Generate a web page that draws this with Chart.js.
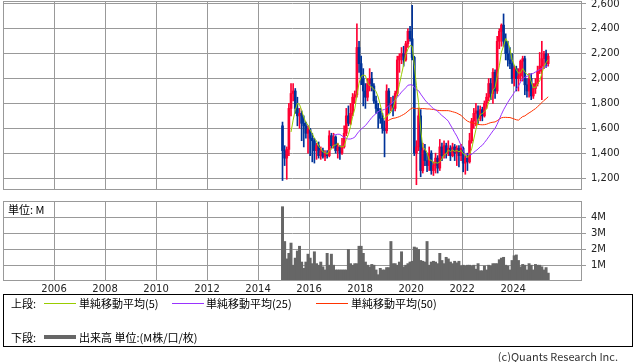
<!DOCTYPE html>
<html>
<head>
<meta charset="utf-8">
<script src="https://cdn.jsdelivr.net/npm/chart.js@4.4.0/dist/chart.umd.min.js"></script>
<style>
body { margin: 0; background: #fff; width: 638px; height: 362px; position: relative; overflow: hidden; font-family: "Noto Sans CJK JP", sans-serif; color: #000; }
canvas { position: absolute; left: 0; }
#price { top: 0; }
#vol { top: 195px; }
.t { position: absolute; font-size: 11px; line-height: 14px; white-space: nowrap; }
.ln { position: absolute; height: 1px; }
#legend { position: absolute; left: 3px; top: 294px; width: 630px; height: 53px; box-sizing: border-box; border: 1px solid #000; }
</style>
</head>
<body>
<canvas id="price" width="638" height="195"></canvas>
<canvas id="vol" width="638" height="100"></canvas>
<div class="t" style="left:8px;top:202px;">単位: M</div>
<div id="legend">
  <div class="t" style="left:7px;top:1px;">上段:</div>
  <div class="ln" style="left:40px;top:8px;width:32px;background:#99cc00;"></div>
  <div class="t" style="left:75px;top:1px;">単純移動平均(5)</div>
  <div class="ln" style="left:168px;top:8px;width:32px;background:#9933ff;"></div>
  <div class="t" style="left:202px;top:1px;">単純移動平均(25)</div>
  <div class="ln" style="left:312px;top:8px;width:32px;background:#ff3300;"></div>
  <div class="t" style="left:347px;top:1px;">単純移動平均(50)</div>
  <div class="t" style="left:7px;top:35px;">下段:</div>
  <div class="ln" style="left:40px;top:40px;width:32px;height:4px;background:#666;"></div>
  <div class="t" style="left:75px;top:35px;">出来高 単位:(M株/口/枚)</div>
</div>
<div class="t" style="right:20px;top:349px;color:#333;">(c)Quants Research Inc.</div>
<script>
'use strict';

const months = [
  '2014-12',
  '2015-01','2015-02','2015-03','2015-04','2015-05','2015-06','2015-07','2015-08','2015-09','2015-10','2015-11','2015-12',
  '2016-01','2016-02','2016-03','2016-04','2016-05','2016-06','2016-07','2016-08','2016-09','2016-10','2016-11','2016-12',
  '2017-01','2017-02','2017-03','2017-04','2017-05','2017-06','2017-07','2017-08','2017-09','2017-10','2017-11','2017-12',
  '2018-01','2018-02','2018-03','2018-04','2018-05','2018-06','2018-07','2018-08','2018-09','2018-10','2018-11','2018-12',
  '2019-01','2019-02','2019-03','2019-04','2019-05','2019-06','2019-07','2019-08','2019-09','2019-10','2019-11','2019-12',
  '2020-01','2020-02','2020-03','2020-04','2020-05','2020-06','2020-07','2020-08','2020-09','2020-10','2020-11','2020-12',
  '2021-01','2021-02','2021-03','2021-04','2021-05','2021-06','2021-07','2021-08','2021-09','2021-10','2021-11','2021-12',
  '2022-01','2022-02','2022-03','2022-04','2022-05','2022-06','2022-07','2022-08','2022-09','2022-10','2022-11','2022-12',
  '2023-01','2023-02','2023-03','2023-04','2023-05','2023-06','2023-07','2023-08','2023-09','2023-10','2023-11','2023-12',
  '2024-01','2024-02','2024-03','2024-04','2024-05','2024-06','2024-07','2024-08','2024-09','2024-10','2024-11','2024-12',
  '2025-01','2025-02','2025-03','2025-04','2025-05'
];

const open = [
  1620,
  1420,1360,1430,1760,1880,1900,1760,1700,1720,1640,1620,1560,
  1590,1520,1500,1420,1460,1380,1420,1370,1400,1380,1540,1460,
  1530,1420,1450,1400,1450,1560,1700,1640,1720,1850,1870,2250,
  2120,2000,1900,1850,1960,2000,1940,1820,1760,1740,1680,1600,
  1580,1900,1780,1800,1760,1880,2150,2180,2200,2150,2280,2380,
  2320,2170,1400,1450,1700,1260,1420,1340,1300,1400,1260,1300,
  1360,1280,1450,1380,1460,1400,1440,1380,1450,1400,1440,1380,
  1440,1320,1360,1330,1500,1660,1720,1740,1680,1750,1700,1800,
  1850,1960,1880,2050,1900,2300,2380,2430,2300,2200,2150,2120,
  2000,2080,2000,2020,2140,2160,1950,1900,2000,1860,1920,1960,
  2060,2100,2160,2200,2120
];
const high = [
  1650,
  1460,1450,1800,1960,1960,1920,1850,1760,1740,1700,1650,1620,
  1600,1560,1520,1480,1490,1450,1440,1420,1420,1580,1560,1560,
  1540,1480,1460,1520,1620,1760,1780,1800,1880,1900,2440,2300,
  2180,2080,1960,2000,2080,2050,1960,1860,1800,1760,1720,1660,
  1950,1920,1850,1860,1900,2180,2200,2250,2260,2300,2400,2420,
  2590,2180,1500,1760,1750,1480,1470,1400,1450,1420,1330,1400,
  1380,1510,1480,1500,1480,1500,1460,1480,1470,1460,1460,1470,
  1450,1380,1400,1560,1680,1760,1800,1780,1780,1770,1820,1880,
  2000,2000,2080,2070,2340,2400,2440,2520,2360,2300,2250,2200,
  2100,2100,2080,2150,2180,2180,2000,2040,2040,1960,2000,2100,
  2210,2300,2220,2230,2200
];
const low = [
  1180,
  1300,1190,1380,1700,1820,1720,1620,1600,1500,1450,1520,1400,
  1380,1330,1320,1350,1360,1350,1360,1340,1360,1370,1440,1440,
  1400,1360,1350,1390,1440,1540,1620,1630,1700,1800,1850,2050,
  1950,1780,1760,1820,1900,1900,1800,1720,1600,1640,1560,1370,
  1560,1720,1740,1700,1740,1860,2050,2120,2100,2140,2250,2300,
  2150,1380,1146,1420,1210,1240,1300,1250,1260,1230,1220,1240,
  1240,1260,1340,1360,1360,1380,1340,1370,1340,1300,1290,1340,
  1250,1230,1260,1320,1480,1600,1620,1640,1660,1660,1690,1760,
  1820,1830,1800,1840,1880,2240,2260,2260,2150,2100,2080,1960,
  1940,1900,1900,1980,1980,1870,1850,1850,1830,1840,1880,1940,
  2040,1830,2080,2090,2100
];
const close = [
  1420,
  1360,1430,1760,1880,1900,1760,1700,1720,1640,1620,1560,1590,
  1520,1500,1420,1460,1380,1420,1370,1400,1380,1540,1460,1530,
  1420,1450,1400,1450,1560,1700,1640,1720,1850,1870,2250,2120,
  2000,1900,1850,1960,2000,1940,1820,1760,1740,1680,1600,1580,
  1900,1780,1800,1760,1880,2150,2180,2200,2150,2280,2380,2320,
  2170,1400,1450,1700,1260,1420,1340,1300,1400,1260,1300,1360,
  1280,1450,1380,1460,1400,1440,1380,1450,1400,1440,1380,1440,
  1320,1360,1330,1500,1660,1720,1740,1680,1750,1700,1800,1850,
  1960,1880,2050,1900,2300,2380,2430,2300,2200,2150,2120,2000,
  2080,2000,2020,2140,2160,1950,1900,2000,1860,1920,1960,2060,
  2100,2160,2200,2120,2180
];
// 出来高 (M)
const volume = [
  4.7,
  2.5,1.4,1.75,2.4,1.0,1.45,1.9,2.2,1.2,0.8,1.2,1.7,
  1.45,1.1,1.85,1.1,1.0,1.2,0.9,0.7,1.75,1.0,1.7,1.0,
  0.7,0.7,0.7,0.7,0.7,0.7,2.0,1.1,1.0,1.1,1.1,2.2,
  2.2,1.75,1.2,1.0,0.9,1.05,1.0,0.7,0.4,0.8,0.7,0.7,
  0.85,0.85,2.5,1.1,1.1,1.0,1.2,1.85,0.9,1.0,1.1,1.2,
  1.25,2.15,2.1,2.0,1.3,1.25,1.2,2.5,1.0,1.2,1.25,1.2,
  1.1,1.75,1.3,1.1,1.5,1.4,1.2,1.1,1.25,1.15,1.25,0.95,
  1.0,0.95,1.0,1.0,0.95,1.0,0.75,1.1,0.65,0.65,0.95,0.7,
  1.0,0.95,1.1,1.1,1.1,1.35,1.45,1.5,1.0,0.95,0.7,1.3,
  1.6,1.65,1.3,0.9,1.05,1.0,0.7,1.1,1.0,0.7,1.05,1.0,
  1.0,0.9,0.7,0.85,0.5
];

const yearTicks = [2006, 2008, 2010, 2012, 2014, 2016, 2018, 2020, 2022, 2024];
const priceTicks = [1200, 1400, 1600, 1800, 2000, 2200, 2400, 2600];
const volumeTicks = [1, 2, 3, 4];

// 月の中央を年の小数で
const xs = months.map(m => {
  const [y, mo] = m.split('-').map(Number);
  return y + (mo - 0.5) / 12;
});

// 単純移動平均
function sma(n) {
  return close.map((c, i) => {
    if (i < n - 1) return null;
    let s = 0;
    for (let k = i - n + 1; k <= i; k++) s += close[k];
    return s / n;
  });
}
const ma5 = sma(5), ma25 = sma(25), ma50 = sma(50);

const candleColor = close.map((c, i) => c >= open[i] ? '#ff0033' : '#003399');
const gridColor = '#999';

Chart.defaults.font.family = 'DejaVu Sans';
Chart.defaults.font.size = 10;
Chart.defaults.color = '#222';
Chart.defaults.animation = false;

const frame = {
  id: 'frame',
  afterDraw(chart) {
    const a = chart.chartArea, ctx = chart.ctx;
    ctx.save();
    ctx.strokeStyle = gridColor;
    ctx.lineWidth = 1;
    ctx.strokeRect(Math.round(a.left) + 0.5, Math.round(a.top) + 0.5,
      Math.round(a.right - a.left) - 1, Math.round(a.bottom - a.top) - 1);
    ctx.restore();
  }
};

const noPad = s => { s.paddingTop = 0; s.paddingBottom = 0; s.paddingLeft = 0; s.paddingRight = 0; };

const xAxis = (showLabels, height) => ({
  type: 'linear',
  min: 2004,
  max: 2026.7,
  offset: false,
  grid: { color: gridColor, drawTicks: false, offset: false },
  border: { display: false },
  ticks: { display: showLabels, padding: 2, callback: v => String(v), maxRotation: 0, autoSkip: false },
  afterBuildTicks: s => { s.ticks = yearTicks.map(v => ({ value: v })); },
  afterFit: s => { s.height = height; noPad(s); }
});

const yAxis = (min, max, ticks, fmt) => ({
  position: 'right',
  min: min,
  max: max,
  beginAtZero: false,
  grid: { color: gridColor, tickLength: 4 },
  border: { display: false },
  ticks: { padding: 5, callback: fmt },
  afterBuildTicks: s => { s.ticks = ticks.map(v => ({ value: v })); },
  afterFit: s => { s.width = 56; noPad(s); }
});

const line = (data, color) => ({
  type: 'line',
  data: xs.map((x, i) => ({ x: x, y: data[i] })),
  borderColor: color,
  borderWidth: 1,
  pointRadius: 0,
  tension: 0
});

new Chart(document.getElementById('price'), {
  type: 'bar',
  data: {
    datasets: [
      line(ma5, '#99cc00'),
      line(ma25, '#9933ff'),
      line(ma50, '#ff3300'),
      {
        data: xs.map((x, i) => ({ x: x, y: [open[i], close[i]] })),
        backgroundColor: candleColor,
        barThickness: 2,
        grouped: false
      },
      {
        data: xs.map((x, i) => ({ x: x, y: [low[i], high[i]] })),
        backgroundColor: candleColor,
        barThickness: 1,
        grouped: false
      }
    ]
  },
  options: {
    responsive: false,
    layout: { padding: { left: 3, top: 1, right: 0, bottom: 0 } },
    plugins: { legend: { display: false }, tooltip: { enabled: false } },
    scales: {
      x: xAxis(false, 5),
      y: yAxis(1103.5, 2624, priceTicks, v => v.toLocaleString('en-US'))
    }
  },
  plugins: [frame]
});

new Chart(document.getElementById('vol'), {
  type: 'bar',
  data: {
    datasets: [{
      data: xs.map((x, i) => ({ x: x, y: volume[i] })),
      backgroundColor: '#666',
      barThickness: 2.3
    }]
  },
  options: {
    responsive: false,
    layout: { padding: { left: 3, top: 6, right: 0, bottom: 0 } },
    plugins: { legend: { display: false }, tooltip: { enabled: false } },
    scales: {
      x: xAxis(true, 14),
      y: yAxis(0, 5.06, volumeTicks, v => v + 'M')
    }
  },
  plugins: [frame]
});
</script>
</body>
</html>
